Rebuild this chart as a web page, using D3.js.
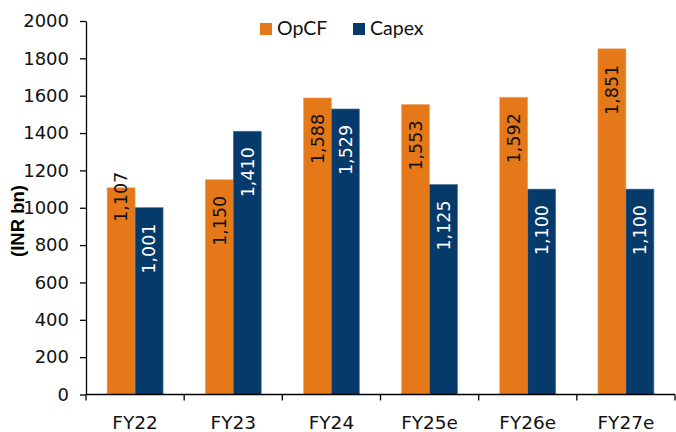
<!DOCTYPE html>
<html><head><meta charset="utf-8">
<script src="https://cdn.jsdelivr.net/npm/d3@7"></script>
<style>body{margin:0;background:#fff}svg{display:block}</style>
</head><body>
<svg id="c" width="676" height="432"></svg>
<script>
const categories = ["FY22","FY23","FY24","FY25e","FY26e","FY27e"];
const seriesNames = ["OpCF","Capex"];
const opcf = [1107,1150,1588,1553,1592,1851];
const capex = [1001,1410,1529,1125,1100,1100];
const yTicks = [0,200,400,600,800,1000,1200,1400,1600,1800,2000];
const yTitle = "(INR bn)";

(function(){
const colors = {OpCF:"#E57818", Capex:"#063A6B"};
const strokes = {OpCF:"#F2A66A", Capex:"#5F7FA0"};
const labelColors = {OpCF:"#111", Capex:"#fff"};

const svg = d3.select("#c");
const mLeft = 86, mRight = 675, mTop = 21, mBottom = 394.5;
const y = d3.scaleLinear().domain([0,2000]).range([mBottom, mTop]);
const x0 = d3.scaleBand().domain(categories).range([mLeft, mRight]);
const x1 = d3.scaleBand().domain(seriesNames).range([0, x0.bandwidth()]).paddingOuter(0.753);

const data = categories.map((c,i)=>({cat:c, OpCF:opcf[i], Capex:capex[i]}));

const g = svg.append("g");
data.forEach(d=>{
  seriesNames.forEach(s=>{
    g.append("rect")
      .attr("x", x0(d.cat)+x1(s))
      .attr("y", y(d[s]))
      .attr("width", x1.bandwidth())
      .attr("height", y(0)-y(d[s]))
      .attr("fill", colors[s])
      .attr("stroke", strokes[s])
      .attr("stroke-width", 0.6);
  });
});

const fmt = d3.format(",");
data.forEach((d,i)=>{
  seriesNames.forEach(s=>{
    const nudge = (s==="OpCF" && i===0) ? -16 : 16;
    const cx = x0(d.cat)+x1(s)+x1.bandwidth()/2;
    svg.append("text")
      .attr("transform", `translate(${cx},${y(d[s])+nudge}) rotate(-90)`)
      .attr("text-anchor","end")
      .attr("dy","0.36em")
      .attr("font-family","DejaVu Sans, sans-serif")
      .attr("font-size", 17.5)
      .attr("fill", labelColors[s])
      .text(fmt(d[s]));
  });
});

const ya = svg.append("g").attr("transform",`translate(${mLeft},0)`)
  .call(d3.axisLeft(y).tickValues(yTicks).tickFormat(d3.format("d")).tickSize(6).tickSizeOuter(0).tickPadding(4));
ya.select(".domain").attr("stroke","#000").attr("stroke-width",1.3);
ya.selectAll(".tick line").attr("stroke","#000").attr("stroke-width",1.3);
ya.selectAll(".tick text").attr("font-family","DejaVu Sans, sans-serif").attr("font-size",18).attr("fill","#111").attr("dx",-7);

const xa = svg.append("g").attr("transform",`translate(0,${mBottom})`);
xa.append("line").attr("x1",mLeft).attr("x2",mRight).attr("y1",0).attr("y2",0).attr("stroke","#000").attr("stroke-width",1.3);
const edges = categories.map(c=>x0(c)).concat([x0(categories[categories.length-1])+x0.bandwidth()]);
xa.selectAll("line.t").data(edges).enter().append("line").attr("class","t")
  .attr("x1",d=>d).attr("x2",d=>d).attr("y1",0).attr("y2",6).attr("stroke","#000").attr("stroke-width",1.3);
xa.selectAll("text").data(categories).enter().append("text")
  .attr("x",d=>x0(d)+x0.bandwidth()/2).attr("y",34)
  .attr("text-anchor","middle")
  .attr("font-family","DejaVu Sans, sans-serif").attr("font-size",18.5).attr("fill","#111")
  .text(d=>d);

svg.append("text")
  .attr("transform","translate(18,221) rotate(-90)")
  .attr("text-anchor","middle").attr("dy","0.35em")
  .attr("font-family","Liberation Sans, Arial, sans-serif").attr("font-weight","bold").attr("font-size",18.5)
  .attr("fill","#000").text(yTitle);

const leg = [{s:"OpCF", x:260, tx:277},{s:"Capex", x:353, tx:370}];
leg.forEach(l=>{
  svg.append("rect").attr("x",l.x).attr("y",23).attr("width",12).attr("height",12).attr("fill",colors[l.s]);
  svg.append("text").attr("x",l.tx).attr("y",35).attr("font-family","Lato, sans-serif").attr("font-size",19.5).attr("fill","#111").text(l.s);
});
})();
</script>
</body></html>
